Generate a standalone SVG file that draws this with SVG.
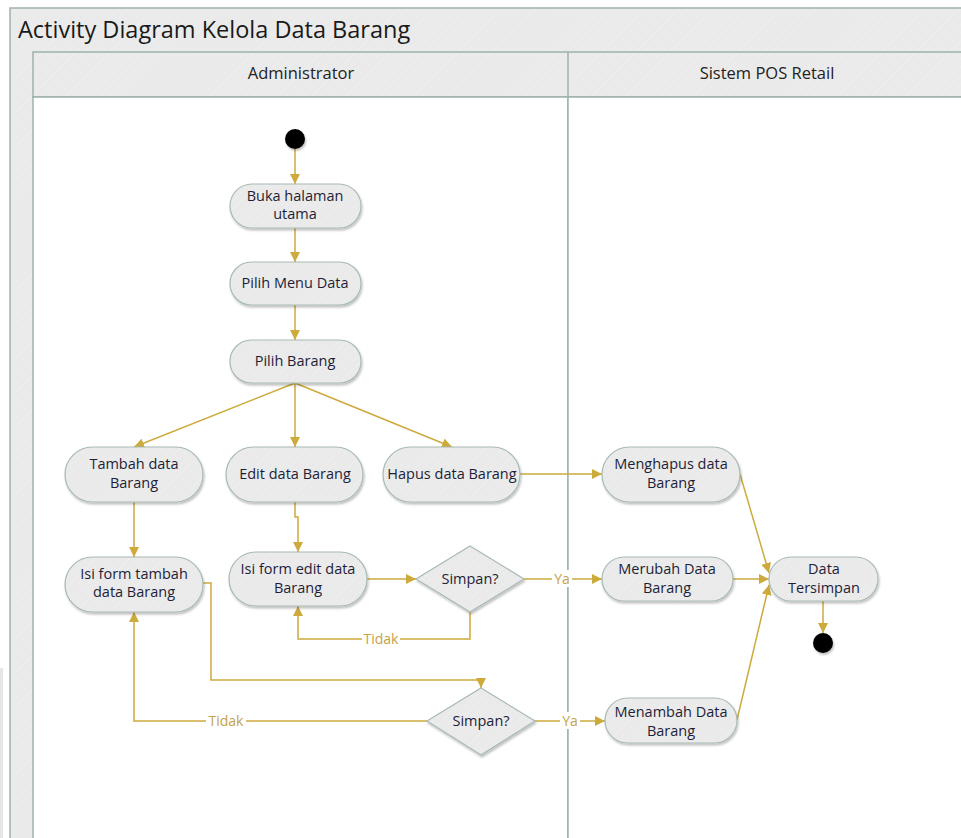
<svg xmlns="http://www.w3.org/2000/svg" width="961" height="838" viewBox="0 0 961 838">
  <defs>
    <pattern id="hatch" width="6" height="6" patternUnits="userSpaceOnUse" patternTransform="rotate(45)">
      <rect width="6" height="6" fill="#EAEAEA"/>
      <line x1="0" y1="0" x2="0" y2="6" stroke="#EFEFEF" stroke-width="1.5"/>
    </pattern>
    <filter id="shadow" x="-20%" y="-20%" width="140%" height="150%">
      <feDropShadow dx="1" dy="2" stdDeviation="1.2" flood-color="#000" flood-opacity="0.25"/>
    </filter>
    <marker id="arrow" viewBox="0 0 10 10" refX="10" refY="5" markerWidth="10" markerHeight="10" markerUnits="userSpaceOnUse" orient="auto">
      <path d="M0,0 L10,5 L0,10 Z" fill="#CDAA3C"/>
    </marker>
  </defs>
  <style>
    .frame { fill: url(#hatch); stroke: #9DB3AA; stroke-width: 1.5; }
    .lane { fill: #FFFFFF; stroke: #9DB3AA; stroke-width: 1.5; }
    .act { fill: url(#hatch); stroke: #A8BAB3; stroke-width: 1.2; filter: url(#shadow); }
    .dec { fill: url(#hatch); stroke: #A8BAB3; stroke-width: 1.2; filter: url(#shadow); }
    .dot { fill: #000; filter: url(#shadow); }
    .t { font-family: "Open Sans", "Noto Sans", "Liberation Sans", sans-serif; font-size: 14.5px; fill: #1E1E38; text-anchor: middle; }
    .title { font-family: "Open Sans", "Noto Sans", "Liberation Sans", sans-serif; font-size: 23.5px; fill: #1A1A1A; }
    .hdr { font-family: "Open Sans", "Noto Sans", "Liberation Sans", sans-serif; font-size: 16.5px; fill: #222; text-anchor: middle; }
    .c { fill: none; stroke: #CDAA3C; stroke-width: 1.5; marker-end: url(#arrow); }
    .lbl { font-family: "Open Sans", "Noto Sans", "Liberation Sans", sans-serif; font-size: 14px; fill: #C4A24A; text-anchor: middle; }
    .lblbg { fill: #FFFFFF; }
  </style>

  <!-- faint edge at far left -->
  <rect x="0" y="668" width="3" height="170" fill="#E6E6E6"/>

  <!-- pool frame with title band and lane headers -->
  <g id="pool">
    <rect class="frame" x="10" y="8" width="960" height="840"/>
    <text class="title" x="18" y="38">Activity Diagram Kelola Data Barang</text>
    <rect class="frame" x="33" y="52" width="940" height="45"/>
    <rect class="lane" x="33" y="97" width="535" height="760"/>
    <rect class="lane" x="568" y="97" width="400" height="760"/>
    <line x1="568" y1="52" x2="568" y2="97" stroke="#9DB3AA" stroke-width="1.5"/>
    <text class="hdr" x="301" y="79">Administrator</text>
    <text class="hdr" x="767" y="79">Sistem POS Retail</text>
  </g>

  <!-- connectors -->
  <g id="connectors">
    <path class="c" d="M295,149 L295,184"/>
    <path class="c" d="M295,228 L295,262"/>
    <path class="c" d="M295,305 L295,340"/>
    <path class="c" d="M295,383 L134,447"/>
    <path class="c" d="M295,383 L295,447"/>
    <path class="c" d="M295,383 L452,447"/>
    <path class="c" d="M134,502 L134,557"/>
    <path class="c" d="M295,502 L295,517 L298,517 L298,552"/>
    <path class="c" d="M520,474 L602,474"/>
    <path class="c" d="M367,579 L416,579"/>
    <path class="c" d="M524,579 L602,579"/>
    <path class="c" d="M470,612 L470,639 L298,639 L298,606"/>
    <path class="c" d="M203,583 L211,583 L211,680 L481,680 L481,688"/>
    <path class="c" d="M427,721 L134,721 L134,612"/>
    <path class="c" d="M535,721 L605,721"/>
    <path class="c" d="M740,474 L769,573"/>
    <path class="c" d="M733,579 L769,579"/>
    <path class="c" d="M737,720 L769,585"/>
    <path class="c" d="M823,601 L823,633"/>
    <!-- edge labels -->
    <rect class="lblbg" x="552" y="570" width="20" height="17"/>
    <text class="lbl" x="562" y="584">Ya</text>
    <rect class="lblbg" x="362" y="631" width="38" height="17"/>
    <text class="lbl" x="381" y="644">Tidak</text>
    <rect class="lblbg" x="206" y="712" width="40" height="17"/>
    <text class="lbl" x="226" y="726">Tidak</text>
    <rect class="lblbg" x="560" y="712" width="20" height="17"/>
    <text class="lbl" x="570" y="726">Ya</text>
  </g>

  <g id="start"><circle class="dot" cx="295" cy="139" r="10"/></g>

  <g id="buka-halaman">
    <rect class="act" x="230" y="184" width="131" height="44" rx="22"/>
    <text class="t" x="295" y="201">Buka halaman</text>
    <text class="t" x="295" y="219">utama</text>
  </g>

  <g id="pilih-menu">
    <rect class="act" x="230" y="262" width="131" height="43" rx="21.5"/>
    <text class="t" x="295" y="288">Pilih Menu Data</text>
  </g>

  <g id="pilih-barang">
    <rect class="act" x="230" y="340" width="131" height="43" rx="21.5"/>
    <text class="t" x="295" y="366">Pilih Barang</text>
  </g>

  <g id="tambah">
    <rect class="act" x="65" y="447" width="138" height="55" rx="27.5"/>
    <text class="t" x="134" y="469">Tambah data</text>
    <text class="t" x="134" y="488">Barang</text>
  </g>

  <g id="edit">
    <rect class="act" x="226" y="447" width="137" height="55" rx="27.5"/>
    <text class="t" x="295" y="479">Edit data Barang</text>
  </g>

  <g id="hapus">
    <rect class="act" x="383" y="447" width="137" height="55" rx="27.5"/>
    <text class="t" x="452" y="479">Hapus data Barang</text>
  </g>

  <g id="isi-form-tambah">
    <rect class="act" x="65" y="557" width="138" height="55" rx="27.5"/>
    <text class="t" x="134" y="579">Isi form tambah</text>
    <text class="t" x="134" y="597">data Barang</text>
  </g>

  <g id="isi-form-edit">
    <rect class="act" x="229" y="552" width="138" height="54" rx="27"/>
    <text class="t" x="298" y="574">Isi form edit data</text>
    <text class="t" x="298" y="593">Barang</text>
  </g>

  <g id="simpan-edit">
    <polygon class="dec" points="470,546 524,579 470,612 416,579"/>
    <text class="t" x="470" y="584">Simpan?</text>
  </g>

  <g id="simpan-tambah">
    <polygon class="dec" points="481,688 535,721 481,755 427,721"/>
    <text class="t" x="481" y="726">Simpan?</text>
  </g>

  <g id="menghapus">
    <rect class="act" x="602" y="447" width="138" height="55" rx="27.5"/>
    <text class="t" x="671" y="469">Menghapus data</text>
    <text class="t" x="671" y="488">Barang</text>
  </g>

  <g id="merubah">
    <rect class="act" x="602" y="557" width="131" height="44" rx="22"/>
    <text class="t" x="667" y="574">Merubah Data</text>
    <text class="t" x="667" y="593">Barang</text>
  </g>

  <g id="menambah">
    <rect class="act" x="605" y="698" width="132" height="45" rx="22.5"/>
    <text class="t" x="671" y="717">Menambah Data</text>
    <text class="t" x="671" y="736">Barang</text>
  </g>

  <g id="data-tersimpan">
    <rect class="act" x="769" y="557" width="109" height="44" rx="22"/>
    <text class="t" x="824" y="574">Data</text>
    <text class="t" x="824" y="593">Tersimpan</text>
  </g>

  <g id="end"><circle class="dot" cx="823" cy="643" r="10"/></g>
</svg>
